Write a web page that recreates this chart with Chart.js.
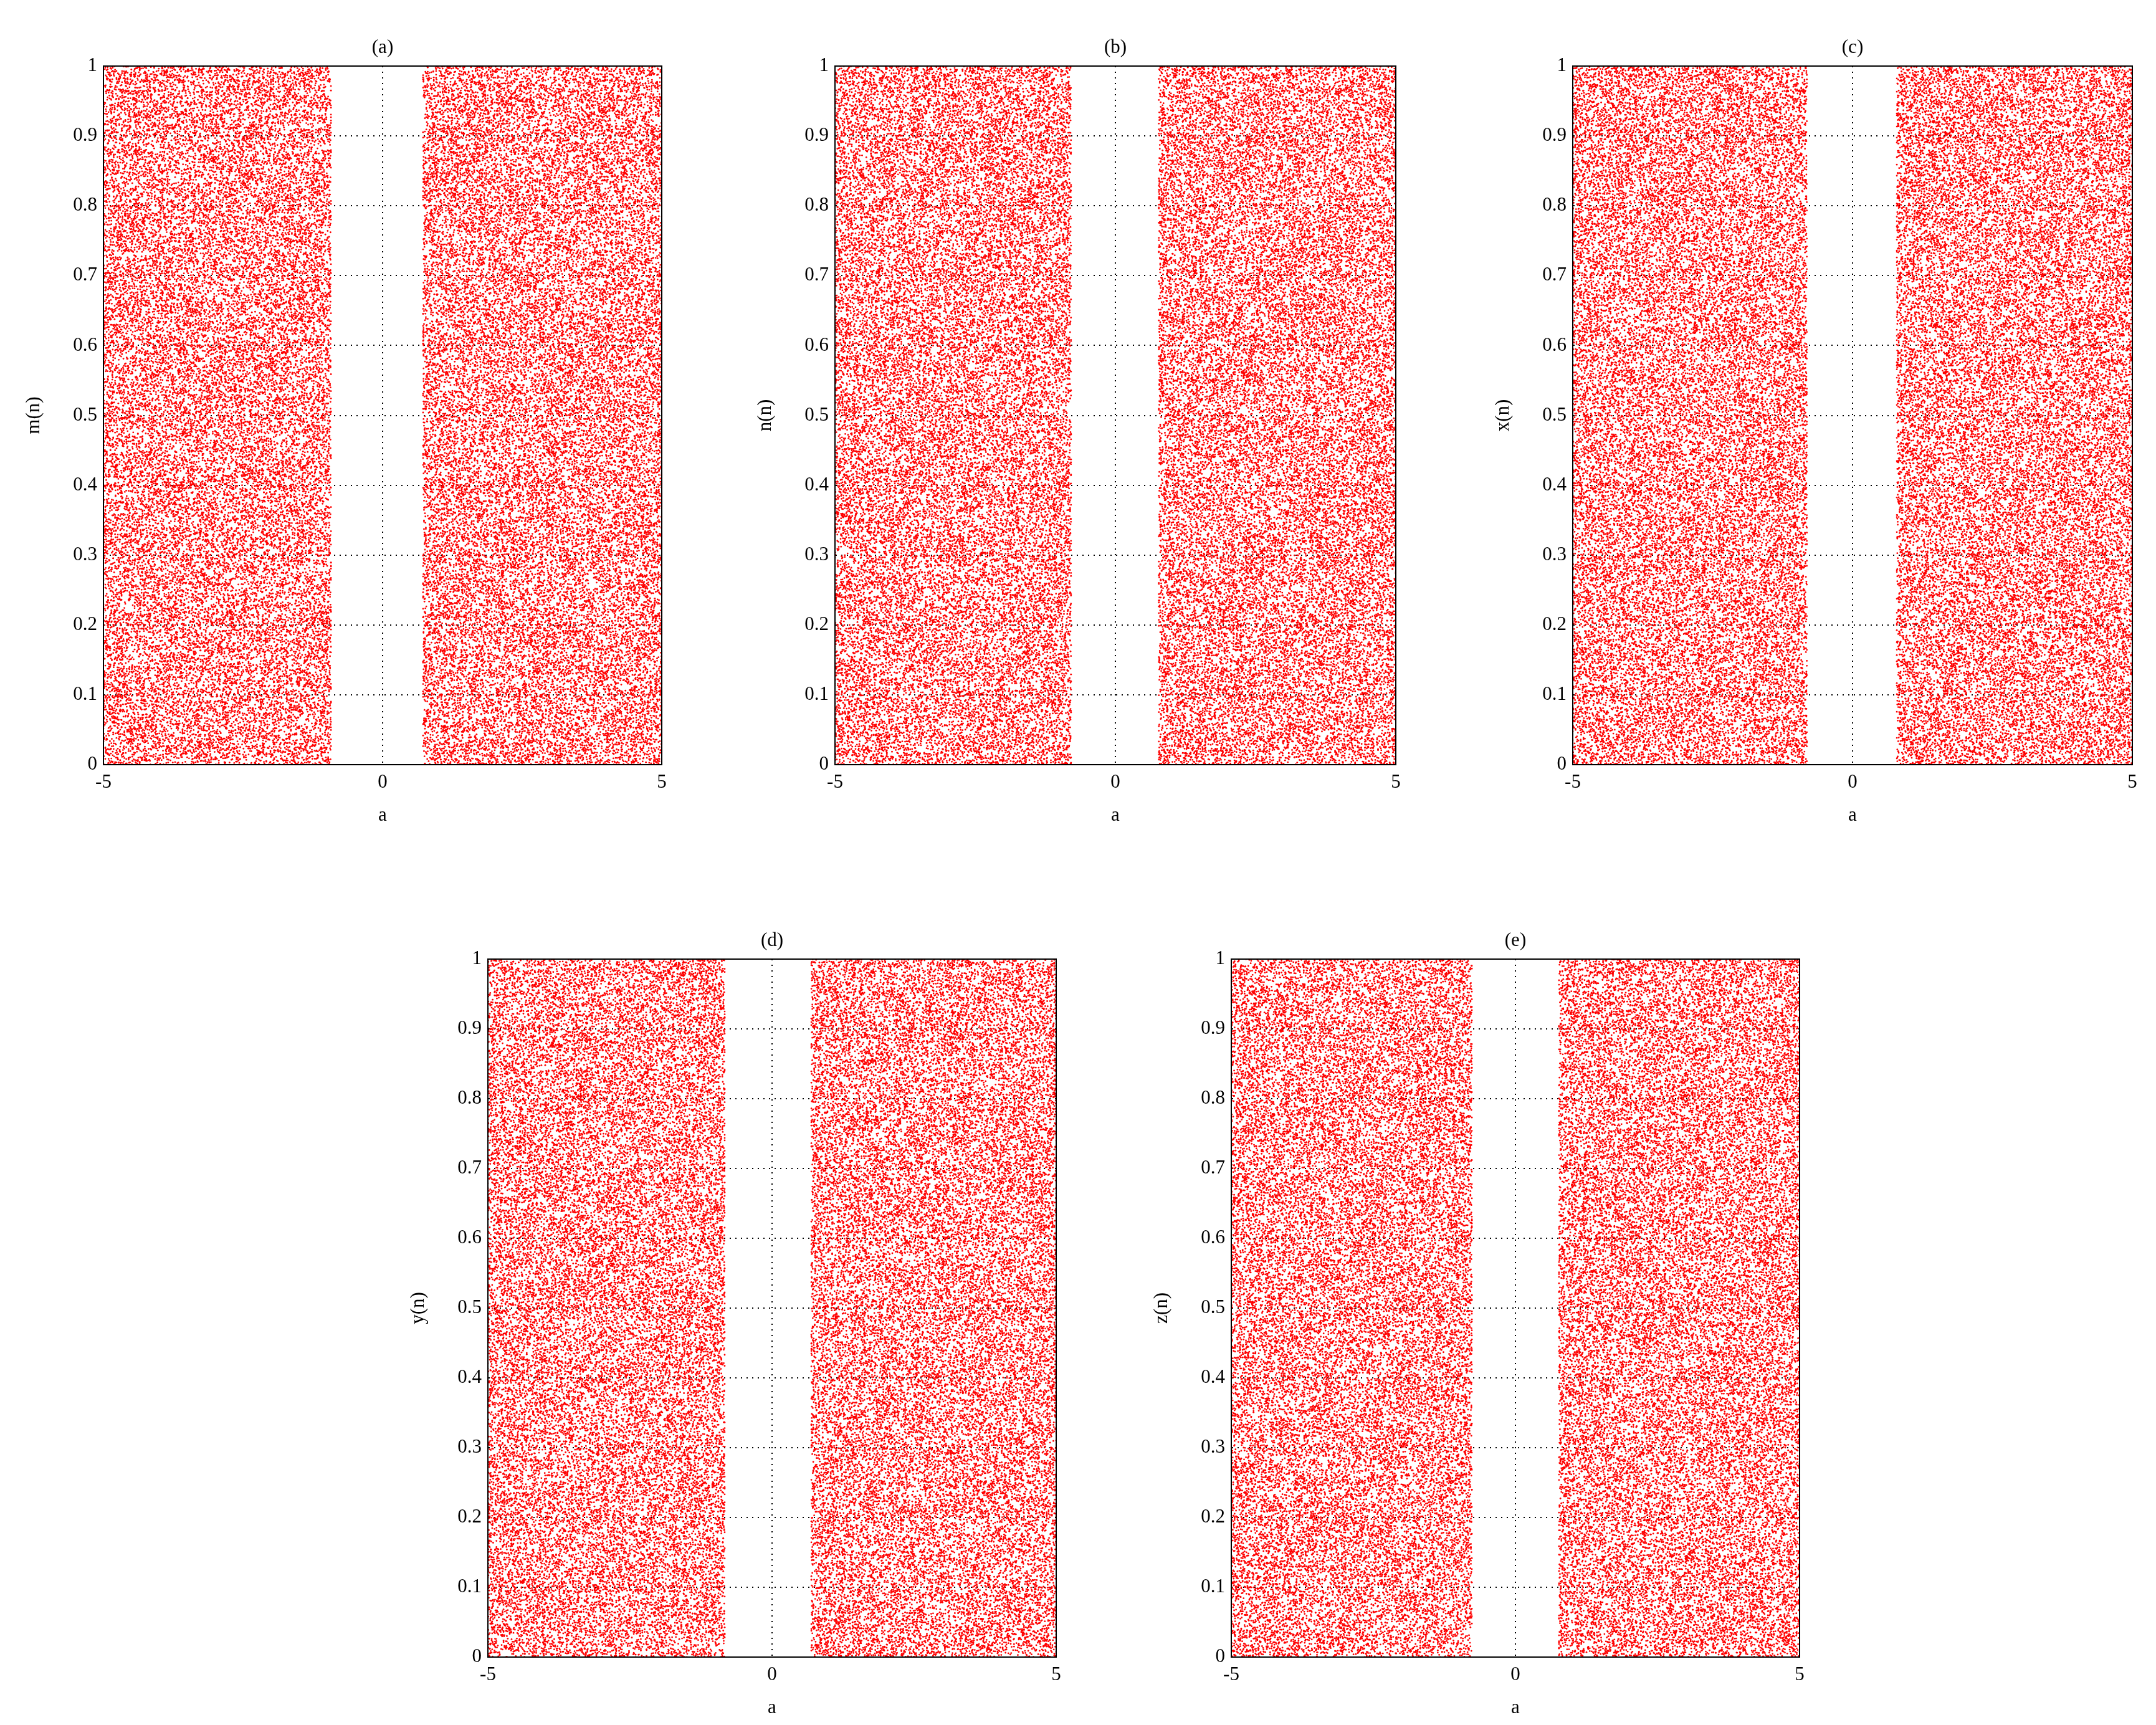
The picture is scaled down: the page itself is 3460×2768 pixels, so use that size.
<!DOCTYPE html>
<html><head><meta charset="utf-8">
<script src="https://cdn.jsdelivr.net/npm/chart.js@4/dist/chart.umd.min.js"></script>
<style>body{margin:0;background:#fff;width:3460px;height:2768px;position:relative;overflow:hidden}
.p{position:absolute}</style></head><body>
<script>
// Panel labels, y-axis titles, and white gap edges (in a-units)
const panelTitles = ['(a)','(b)','(c)','(d)','(e)'];
const yTitles = ['m(n)','n(n)','x(n)','y(n)','z(n)'];
const gapLeft = [-0.92,-0.79,-0.81,-0.83,-0.76];
const gapRight = [0.72,0.77,0.79,0.69,0.76];
const xTicks = [-5,0,5];
const yTicks = [0,0.1,0.2,0.3,0.4,0.5,0.6,0.7,0.8,0.9,1];
// plot-area boxes [left, top, width, height]
const boxes = [[166,106,896,1121],[1340,106,900,1121],[2524,106,898,1121],[783,1539,912,1120],[1976,1539,912,1120]];

// iterate an expanding chaotic map for each parameter value a
function orbit(k, a){
  let x = 0.1234 + 0.071*k + 0.0137*a, y = 0.377 + 0.05*k, out=[];
  for(let i=0;i<70;i++){
    const nx = ((7.3+Math.abs(a))*x + 2*y + 0.31*a + 0.017*k) % 1;
    y = (x + y) % 1;
    x = nx < 0 ? nx+1 : nx;
    if(i>=10) out.push(x);
  }
  return out;
}
const font = {family:'"Liberation Serif", serif', size:31};
boxes.forEach((b,k)=>{
  const L=130,T=70,R=40,B=100;
  const c=document.createElement('canvas');
  const d=document.createElement('div');d.className='p';
  d.style.left=(b[0]-L)+'px';d.style.top=(b[1]-T)+'px';
  d.style.width=(b[2]+L+R)+'px';d.style.height=(b[3]+T+B)+'px';
  d.appendChild(c);document.body.appendChild(d);
  const pts=[];
  for(let j=0;j<=1200;j++){
    const a=-5+10*j/1200;
    if(a>gapLeft[k]&&a<gapRight[k]) continue;
    for(const y of orbit(k,a)) pts.push({x:a,y:y});
  }
  new Chart(c,{type:'scatter',
    data:{datasets:[{data:pts,pointRadius:1.4,pointBorderWidth:0,backgroundColor:'#ff0000'}]},
    options:{animation:false,responsive:true,maintainAspectRatio:false,
      layout:{padding:{top:T,right:R,left:0,bottom:0}},
      plugins:{legend:{display:false},tooltip:{enabled:false},title:{display:false}},
      scales:{
        x:{min:-5,max:5,afterFit:s=>{s.height=B},afterBuildTicks:s=>{s.ticks=xTicks.map(v=>({value:v}))},
          grid:{color:'#000',lineWidth:2,drawTicks:false},border:{color:'#000',width:2,dash:[2,7]},
          ticks:{font,color:'#000',padding:10,callback:v=>String(v)},title:{display:true,text:'a',font,color:'#000',padding:0}},
        y:{min:0,max:1,afterFit:s=>{s.width=L},afterBuildTicks:s=>{s.ticks=yTicks.map(v=>({value:v}))},
          grid:{color:'#000',lineWidth:2,drawTicks:false},border:{color:'#000',width:2,dash:[2,7]},
          ticks:{font,color:'#000',padding:10,callback:v=>String(v)},title:{display:true,text:yTitles[k],font,color:'#000',padding:0}}
      }},
    plugins:[{id:'t',afterDraw(ch){const g=ch.ctx,a=ch.chartArea;g.save();
      g.strokeStyle='#000';g.lineWidth=2;g.strokeRect(a.left,a.top,a.right-a.left,a.bottom-a.top);
      g.font='31px "Liberation Serif", serif';g.fillStyle='#000';g.textAlign='center';g.textBaseline='bottom';
      g.fillText(panelTitles[k],(a.left+a.right)/2,a.top-14);g.restore();}}]
  });
});
</script></body></html>
